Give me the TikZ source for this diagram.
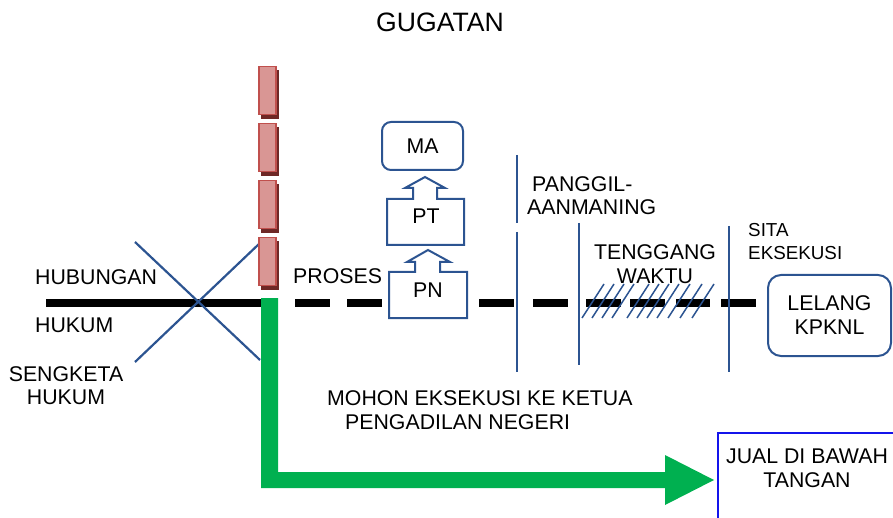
\documentclass[tikz,border=0pt]{standalone}
\usepackage{fontspec}
\setmainfont{Liberation Sans}
\definecolor{lineblue}{RGB}{44,84,145}
\definecolor{brickfill}{RGB}{217,150,148}
\definecolor{brickedge}{RGB}{192,80,77}
\definecolor{brickshadow}{RGB}{110,40,38}
\definecolor{arrowgreen}{RGB}{0,176,80}
\definecolor{boxblue}{RGB}{20,20,235}
\begin{document}
\begin{tikzpicture}[x=1pt,y=-1pt,
  lbl/.style={inner sep=0pt, font=\fontsize{21.3}{24}\selectfont, align=center},
  blueline/.style={draw=lineblue, line width=2pt},
  timeline/.style={draw=black, line width=8pt},
  hatchline/.style={draw=lineblue, line width=1.5pt},
  brick/.style={draw=brickedge, fill=brickfill, line width=1.5pt}]
\useasboundingbox (0,0) rectangle (893,518);

% time line
\draw[timeline] (46,303) -- (262,303);
\foreach \a/\b in {295/330, 347/382, 479/514, 533/568, 586/621, 630/665, 676/710, 721/756}
  \draw[timeline] (\a,303) -- (\b,303);

% cross
\draw[lineblue, line width=2.2pt] (135,242) -- (260,360);
\draw[lineblue, line width=2.2pt] (135,362) -- (260,243);

% bricks
\foreach \t in {66,123,180,237} {
  \fill[brickshadow] (261,\t+4) rectangle (279,\t+53);
  \draw[brick] (258.75,\t+0.75) rectangle (275.75,\t+48.5);
}

% green arrow
\fill[arrowgreen] (261,298) -- (278,298) -- (278,472) -- (665,472) -- (665,455)
  -- (714,480) -- (665,505) -- (665,488) -- (261,488) -- cycle;

% vertical separators
\draw[blueline, line width=1.8pt] (517,155) -- (517,223);
\draw[blueline, line width=1.8pt] (517,232) -- (517,372);
\draw[blueline, line width=1.8pt] (579,223) -- (579,365);
\draw[blueline, line width=1.8pt] (729,226) -- (729,372);

% hatch
\foreach \b in {582,592,602,612,627,637,647,657,668,680,692}
  \draw[hatchline] (\b,318) -- (\b+22,284);

% court boxes
\node[lbl, draw=lineblue, line width=2pt, rounded corners=9pt,
  minimum width=81pt, minimum height=48pt] (ma) at (422.5,146) {MA};
\draw[blueline, fill=white] (387,245) -- (387,199) -- (413,199) -- (413,188) -- (405,188)
  -- (425,177) -- (445,188) -- (437,188) -- (437,199) -- (464,199) -- (464,245) -- cycle;
\node[lbl] (pt) at (426,216) {PT};
\draw[blueline, fill=white] (389,318) -- (389,272) -- (415,272) -- (415,262) -- (407,262)
  -- (428,250) -- (450,262) -- (440,262) -- (440,272) -- (467,272) -- (467,318) -- cycle;
\node[lbl] (pn) at (428,290) {PN};

% lelang box
\node[lbl, draw=lineblue, line width=2pt, rounded corners=13pt,
  minimum width=123pt, minimum height=81pt] (lelang) at (829.5,315.5) {LELANG\\KPKNL};

% jual box
\draw[draw=boxblue, line width=2pt] (718,520) -- (718,433) -- (895,433);
\node[lbl] (jual) at (807,468) {JUAL DI BAWAH\\TANGAN};

% texts
\node[lbl, font=\fontsize{26.6}{30}\selectfont] (title) at (440,22) {GUGATAN};
\node[lbl, anchor=west] (hub) at (35,277) {HUBUNGAN};
\node[lbl, anchor=west] (huk) at (35,325) {HUKUM};
\node[lbl, font=\fontsize{21.3}{23}\selectfont] (seng) at (66,385.5) {SENGKETA\\HUKUM};
\node[lbl, anchor=west] (proses) at (293,276) {PROSES};
\node[lbl, anchor=west] (pang1) at (532,184) {PANGGIL-};
\node[lbl, anchor=west] (pang2) at (527,207) {AANMANING};
\node[lbl] (teng) at (655,264) {TENGGANG\\WAKTU};
\node[lbl, anchor=west, align=left, font=\fontsize{18.8}{23}\selectfont] (sita) at (748,241.5) {SITA\\EKSEKUSI};
\node[lbl, anchor=west] (mohon1) at (327,398) {MOHON EKSEKUSI KE KETUA};
\node[lbl, anchor=west] (mohon2) at (345,422) {PENGADILAN NEGERI};
\end{tikzpicture}
\end{document}
